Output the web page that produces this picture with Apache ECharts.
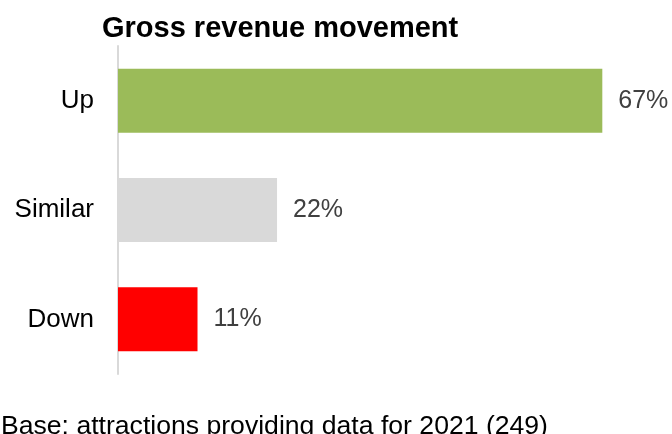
<!DOCTYPE html>
<html>
<head>
<meta charset="utf-8">
<script src="https://cdn.jsdelivr.net/npm/echarts@6/dist/echarts.min.js"></script>
<style>html,body{margin:0;padding:0;background:#fff}#c{width:672px;height:434px}</style>
</head>
<body>
<div id="c"></div>
<script>
var categories = ['Up', 'Similar', 'Down'];
var values = [67, 22, 11];
var barColors = ['#9BBB59', '#D9D9D9', '#FF0000'];
var titleText = 'Gross revenue movement';
var footerText = 'Base: attractions providing data for 2021 (249)';

var chart = echarts.init(document.getElementById('c'), null, {renderer: 'canvas'});
chart.setOption({
  animation: false,
  backgroundColor: '#ffffff',
  title: [
    {text: titleText, left: 97, top: 9,
     textStyle: {fontFamily: 'Liberation Sans, Arial, sans-serif', fontSize: 29, fontWeight: 'bold', color: '#000'}},
    {text: footerText, left: -4, top: 408,
     textStyle: {fontFamily: 'Liberation Sans, Arial, sans-serif', fontSize: 26.6, fontWeight: 'normal', color: '#000'}}
  ],
  grid: {left: 118, top: 46, height: 328, right: 48, containLabel: false},
  xAxis: {type: 'value', min: 0, max: 70, show: false},
  yAxis: {
    type: 'category', data: categories, inverse: true,
    axisLine: {show: true, lineStyle: {color: '#D9D9D9', width: 2}},
    axisTick: {show: false},
    axisLabel: {margin: 24, fontFamily: 'Liberation Sans, Arial, sans-serif', fontSize: 26, color: '#000'}
  },
  series: [{
    type: 'bar',
    barWidth: 64,
    data: values.map(function (v, i) { return {value: v, itemStyle: {color: barColors[i]}}; }),
    label: {
      show: true, position: 'right', distance: 16,
      formatter: '{c}%',
      fontFamily: 'Liberation Sans, Arial, sans-serif', fontSize: 25, color: '#404040'
    }
  }]
});
</script>
</body>
</html>
